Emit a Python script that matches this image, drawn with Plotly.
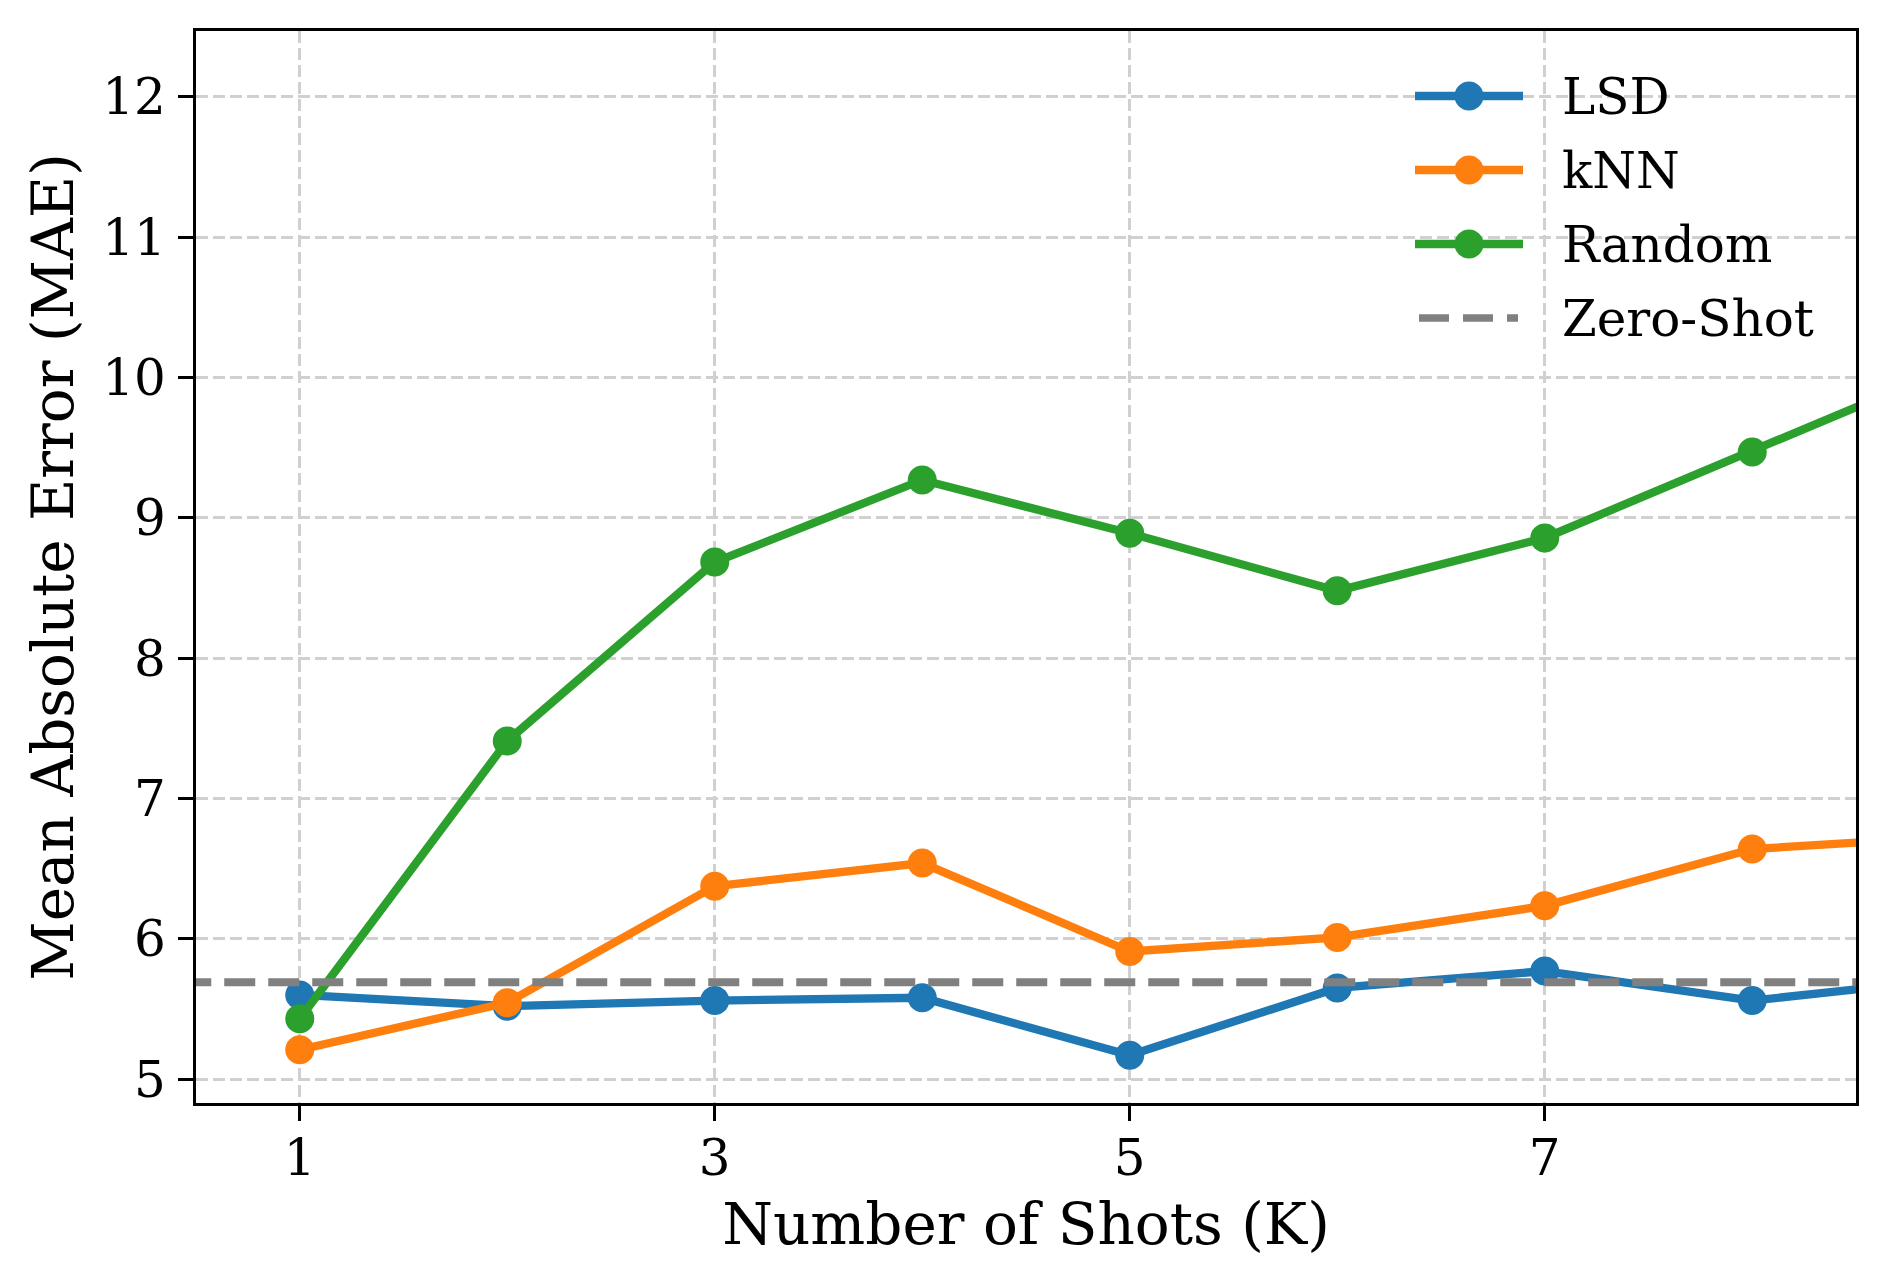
import plotly.graph_objects as go

shots = [1, 2, 3, 4, 5, 6, 7, 8, 9]
lsd = [5.60, 5.52, 5.56, 5.58, 5.17, 5.65, 5.77, 5.56, 5.72]
knn = [5.21, 5.545, 6.375, 6.54, 5.91, 6.01, 6.235, 6.64, 6.73]
random_sel = [5.43, 7.41, 8.685, 9.27, 8.89, 8.48, 8.857, 9.47, 10.10]
zero_shot = 5.69

x_ticks = [1, 3, 5, 7]
y_ticks = [5, 6, 7, 8, 9, 10, 11, 12]

FONT = "DejaVu Serif"
GRAY = "#808080"
series = [
    ("LSD", lsd, "#1f77b4"),
    ("kNN", knn, "#ff7f0e"),
    ("Random", random_sel, "#2ca02c"),
]

W, H = 1870, 1268
ML, MR, MT, MB = 188, 22, 23, 173
PW, PH = W - ML - MR, H - MT - MB

fig = go.Figure()
for name, vals, color in series:
    fig.add_trace(go.Scatter(
        x=shots, y=vals, name=name, mode="lines+markers",
        line=dict(color=color, width=8.3),
        marker=dict(color=color, size=29, line=dict(width=0)),
        showlegend=False,
    ))

fig.add_trace(go.Scatter(
    x=[shots[0] - 1, shots[-1] + 1], y=[zero_shot, zero_shot],
    name="Zero-Shot", mode="lines",
    line=dict(color=GRAY, width=8, dash="31px,13px"),
    showlegend=False,
))

# Manual legend (upper right, no frame), positioned in paper coordinates
def px_x(px):
    return (px - ML) / PW

def px_y(py):
    return 1 - (py - MT) / PH

legend_items = [(n, c, "solid") for n, _, c in series] + [("Zero-Shot", GRAY, "dash")]
shapes, annotations = [], []
for i, (name, color, style) in enumerate(legend_items):
    yc = px_y(88 + 74 * i)
    if style == "solid":
        shapes.append(dict(type="line", xref="paper", yref="paper",
                           x0=px_x(1407), x1=px_x(1515), y0=yc, y1=yc,
                           line=dict(color=color, width=8.3)))
        shapes.append(dict(type="circle", xref="paper", yref="paper",
                           xsizemode="pixel", ysizemode="pixel",
                           xanchor=px_x(1461), yanchor=yc,
                           x0=-14.5, x1=14.5, y0=-14.5, y1=14.5,
                           fillcolor=color, line=dict(width=0)))
    else:
        shapes.append(dict(type="line", xref="paper", yref="paper",
                           x0=px_x(1411), x1=px_x(1510), y0=yc, y1=yc,
                           line=dict(color=color, width=7.7, dash="30px,14px")))
    annotations.append(dict(text=name, xref="paper", yref="paper",
                            x=px_x(1552), y=yc, xanchor="left", yanchor="middle",
                            yshift=-1, showarrow=False,
                            font=dict(family=FONT, size=50, color="black")))

axis_common = dict(
    showline=True, linecolor="black", linewidth=3.3, mirror=True,
    ticks="outside", ticklen=15, tickwidth=3.3, tickcolor="black",
    showgrid=True, gridcolor="#d0d0d0", gridwidth=3, griddash="12px,5px",
    zeroline=False,
    tickfont=dict(family=FONT, size=50, color="black"),
)

fig.update_xaxes(
    range=[0.5, 8.5], tickvals=x_ticks, ticktext=[str(v) for v in x_ticks],
    title=dict(text="Number of Shots (K)", font=dict(family=FONT, size=58, color="black"), standoff=18),
    ticklabelstandoff=-6,
    **axis_common,
)
fig.update_yaxes(
    range=[4.83, 12.47], tickvals=y_ticks, ticktext=[str(v) for v in y_ticks],
    title=dict(text="Mean Absolute Error (MAE)", font=dict(family=FONT, size=58, color="black"), standoff=10),
    ticklabelstandoff=2,
    **axis_common,
)

fig.update_layout(
    width=W, height=H,
    margin=dict(l=ML, r=MR, t=MT, b=MB),
    paper_bgcolor="white", plot_bgcolor="white",
    font=dict(family=FONT, color="black"),
    showlegend=False,
    shapes=shapes,
    annotations=annotations,
)

fig.write_html("out.html")
